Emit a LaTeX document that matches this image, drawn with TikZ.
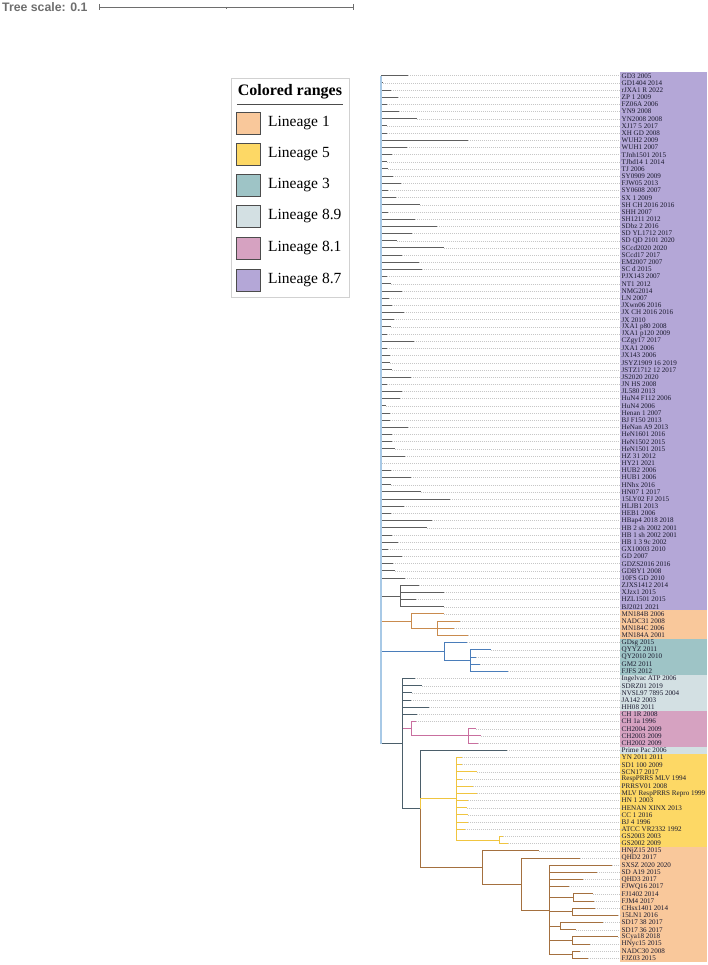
\documentclass[tikz,border=0pt]{standalone}
\usepackage{fontspec}
\setmainfont{Liberation Serif}
\newfontfamily\scalefnt{Liberation Sans}
\definecolor{linA}{HTML}{F9C89B}
\definecolor{linE}{HTML}{FDD865}
\definecolor{linC}{HTML}{9EC4C6}
\definecolor{linI}{HTML}{D3E0E3}
\definecolor{linH}{HTML}{D6A2C1}
\definecolor{linG}{HTML}{B4A7D7}
\definecolor{cgrey}{HTML}{5E5E5E}
\definecolor{corange}{HTML}{C98B4E}
\definecolor{cblue}{HTML}{4A7DBA}
\definecolor{cslate}{HTML}{4B5E6A}
\definecolor{cpink}{HTML}{C96F9F}
\definecolor{cyellow}{HTML}{F0C540}
\definecolor{cbrown}{HTML}{A4703F}
\definecolor{croot}{HTML}{A8C9E6}
\definecolor{scalegrey}{HTML}{6E6E6E}
\definecolor{labtext}{HTML}{1A1A2E}
\tikzset{
  brg/.style={draw=cgrey,line width=1pt},
  bro/.style={draw=corange,line width=1pt},
  brb/.style={draw=cblue,line width=1pt},
  brs/.style={draw=cslate,line width=1pt},
  brp/.style={draw=cpink,line width=1pt},
  bry/.style={draw=cyellow,line width=1pt},
  brw/.style={draw=cbrown,line width=1pt},
  leader/.style={draw=black!22,line width=0.5pt,dash pattern=on 0.8pt off 1.2pt},
  leaflab/.style={anchor=west,inner sep=0pt,font=\fontsize{7.1}{8}\selectfont,text=labtext},
  legtext/.style={anchor=west,inner sep=0pt,font=\fontsize{15.5}{17}\selectfont},
  swatch/.style={draw=black!70,line width=0.5pt}
}
\begin{document}
\begin{tikzpicture}[x=1pt,y=-1pt]
\useasboundingbox (0,0) rectangle (708,965);
% tree scale
\node[anchor=west,inner sep=0pt,font=\scalefnt\bfseries\fontsize{12.3}{14}\selectfont,text=scalegrey] (ts) at (2,7) {Tree scale: 0.1};
\coordinate (sbA) at (99,7);
\coordinate (sbB) at (353,7);
\coordinate (sbM) at (226,7);
\draw[scalegrey,line width=0.8pt] (sbA) -- (sbB);
\draw[scalegrey,line width=0.8pt] ([yshift=3pt]sbA) -- ([yshift=-3pt]sbA);
\draw[scalegrey,line width=0.8pt] ([yshift=3pt]sbB) -- ([yshift=-3pt]sbB);
\draw[scalegrey,line width=0.8pt] (sbM) -- ([yshift=-2pt]sbM);
% legend
\draw[draw=black!18,fill=white,line width=0.6pt] (231,78) rectangle (349,297);
\node[inner sep=0pt,font=\bfseries\fontsize{16}{18}\selectfont] (legtitle) at (290,91.5) {Colored ranges};
\draw[black!70,line width=0.8pt] (237,104) -- (343,104);
\foreach \yy/\cc/\tt [count=\n] in {123/linA/Lineage 1,154/linE/Lineage 5,185/linC/Lineage 3,216/linI/Lineage 8.9,248/linH/Lineage 8.1,280/linG/Lineage 8.7}{
  \draw[swatch,fill=\cc] (236,\yy-11) rectangle (260,\yy+11);
  \node[legtext] (leg\n) at (268,\yy) {\tt};
}
\begin{scope}[y=-7.177pt,yshift=-68.523pt]
% colour ranges
\fill[linG] (620,0.5) rectangle (707,75.5);
\fill[linA] (620,75.5) rectangle (707,79.5);
\fill[linC] (620,79.5) rectangle (707,84.5);
\fill[linI] (620,84.5) rectangle (707,89.5);
\fill[linH] (620,89.5) rectangle (707,94.5);
\fill[linI] (620,94.5) rectangle (707,95.5);
\fill[linE] (620,95.5) rectangle (707,108.5);
\fill[linA] (620,108.5) rectangle (707,124.5);
% internal nodes
\coordinate (R) at (381,47.54);
\coordinate (A) at (400.7,73.5);
\coordinate (O1) at (411,77);
\coordinate (O1b) at (437,78);
\coordinate (B3) at (444,81.25);
\coordinate (B3b) at (470.3,82.5);
\coordinate (N402) at (402.3,94.08);
\coordinate (P) at (411,92);
\coordinate (P2) at (468.3,93);
\coordinate (N420) at (420,103.156);
\coordinate (Y) at (456.7,101.75);
\coordinate (Y2) at (499.3,107.5);
\coordinate (O2) at (482.3,111.3125);
\coordinate (O3) at (521.7,113.625);
\coordinate (O4) at (549,117.25);
\coordinate (Q1) at (573.3,115.5);
\coordinate (Q2) at (572.3,117.5);
\coordinate (Q3) at (560,119.5);
\coordinate (Q4) at (572.3,121.5);
\coordinate (Q5) at (572.3,123.5);
% leaves
\foreach \i/\x/\p/\c/\t in {
1/408.3/R/brg/GD3 2005,
2/383.3/R/brg/GD1404 2014,
3/390.7/R/brg/rJXA1 R 2022,
4/398.3/R/brg/ZP 1 2009,
5/386.7/R/brg/FZ06A 2006,
6/399/R/brg/YN9 2008,
7/416.7/R/brg/YN2008 2008,
8/386.7/R/brg/XJ17 5 2017,
9/386.7/R/brg/XH GD 2008,
10/468.3/R/brg/WUH2 2009,
11/407.3/R/brg/WUH1 2007,
12/391.7/R/brg/TJnh1501 2015,
13/387.3/R/brg/TJbd14 1 2014,
14/387.7/R/brg/TJ 2006,
15/393.3/R/brg/SY0909 2009,
16/401/R/brg/FJW05 2013,
17/387.7/R/brg/SY0608 2007,
18/395.7/R/brg/SX 1 2009,
19/420/R/brg/SH CH 2016 2016,
20/387.7/R/brg/SHH 2007,
21/415/R/brg/SH1211 2012,
22/437.3/R/brg/SDbz 2 2016,
23/412.3/R/brg/SD YL1712 2017,
24/396.7/R/brg/SD QD 2101 2020,
25/444/R/brg/SCcd2020 2020,
26/402.3/R/brg/SCcd17 2017,
27/419.3/R/brg/EM2007 2007,
28/421.7/R/brg/SC d 2015,
29/386.7/R/brg/PJX143 2007,
30/390.7/R/brg/NT1 2012,
31/401.7/R/brg/NMG2014,
32/389/R/brg/LN 2007,
33/391.7/R/brg/JXwn06 2016,
34/404/R/brg/JX CH 2016 2016,
35/394.3/R/brg/JX 2010,
36/390.7/R/brg/JXA1 p80 2008,
37/387.3/R/brg/JXA1 p120 2009,
38/414.3/R/brg/CZgy17 2017,
39/386.7/R/brg/JXA1 2006,
40/390/R/brg/JX143 2006,
41/390/R/brg/JSYZ1909 16 2019,
42/392.3/R/brg/JSTZ1712 12 2017,
43/410.7/R/brg/JS2020 2020,
44/386.7/R/brg/JN HS 2008,
45/401.7/R/brg/JL580 2013,
46/400/R/brg/HuN4 F112 2006,
47/385.7/R/brg/HuN4 2006,
48/390/R/brg/Henan 1 2007,
49/390/R/brg/BJ F150 2013,
50/407.7/R/brg/HeNan A9 2013,
51/391.7/R/brg/HeN1601 2016,
52/391.7/R/brg/HeN1502 2015,
53/395/R/brg/HeN1501 2015,
54/405/R/brg/HZ 31 2012,
55/382.3/R/brg/HY21 2021,
56/391/R/brg/HUB2 2006,
57/411/R/brg/HUB1 2006,
58/390.7/R/brg/HNhx 2016,
59/420.7/R/brg/HN07 1 2017,
60/450/R/brg/15LY02 FJ 2015,
61/404/R/brg/HLJB1 2013,
62/390.7/R/brg/HEB1 2006,
63/432.3/R/brg/HBap4 2018 2018,
64/426.7/R/brg/HB 2 sh 2002 2001,
65/391.7/R/brg/HB 1 sh 2002 2001,
66/397.7/R/brg/HB 1 3 9c 2002,
67/387.7/R/brg/GX10003 2010,
68/401.7/R/brg/GD 2007,
69/393.3/R/brg/GDZS2016 2016,
70/395/R/brg/GDBY1 2008,
71/405/R/brg/10FS GD 2010,
72/419/A/brg/ZJXS1412 2014,
73/444/A/brg/XJzx1 2015,
74/415.7/A/brg/HZL1501 2015,
75/444/A/brg/BJ2021 2021,
76/444/O1/bro/MN184B 2006,
77/460/O1b/bro/NADC31 2008,
78/454/O1b/bro/MN184C 2006,
79/467.7/O1b/bro/MN184A 2001,
80/466.7/B3/brb/GDsg 2015,
81/490.7/B3b/brb/QYYZ 2011,
82/475.7/B3b/brb/QY2010 2010,
83/480.3/B3b/brb/GM2 2011,
84/507.7/B3b/brb/FJFS 2012,
85/415/N402/brs/Ingelvac ATP 2006,
86/422.3/N402/brs/SDRZ01 2019,
87/411.7/N402/brs/NVSL97 7895 2004,
88/411/N402/brs/JA142 2003,
89/429/N402/brs/HH08 2011,
90/417/N402/brs/CH 1R 2008,
91/415.7/P/brp/CH 1a 1996,
92/476/P2/brp/CH2004 2009,
93/481/P2/brp/CH2003 2009,
94/478.3/P2/brp/CH2002 2009,
95/507.3/N420/brs/Prime Pac 2006,
96/462.3/Y/bry/YN 2011 2011,
97/462.3/Y/bry/SD1 100 2009,
98/476.7/Y/bry/SCN17 2017,
99/462.3/Y/bry/RespPRRS MLV 1994,
100/473.3/Y/bry/PRRSV01 2008,
101/476.7/Y/bry/MLV RespPRRS Repro 1999,
102/468.3/Y/bry/HN 1 2003,
103/466.7/Y/bry/HENAN XINX 2013,
104/467.7/Y/bry/CC 1 2016,
105/467.7/Y/bry/BJ 4 1996,
106/465/Y/bry/ATCC VR2332 1992,
107/503/Y2/bry/GS2003 2003,
108/508/Y2/bry/GS2002 2009,
109/539.3/O2/brw/HNjZ15 2015,
110/580/O3/brw/QHD2 2017,
111/611.7/O4/brw/SXSZ 2020 2020,
112/596.7/O4/brw/SD A19 2015,
113/583.3/O4/brw/QHD3 2017,
114/569.3/O4/brw/FJWQ16 2017,
115/593.3/Q1/brw/FJ1402 2014,
116/594.3/Q1/brw/FJM4 2017,
117/595/Q2/brw/CHsx1401 2014,
118/618/Q2/brw/15LN1 2016,
119/603.3/Q3/brw/SD17 38 2017,
120/576/Q3/brw/SD17 36 2017,
121/618/Q4/brw/SCya18 2018,
122/590/Q4/brw/HNyc15 2015,
123/580/Q5/brw/NADC30 2008,
124/587.7/Q5/brw/FJZ03 2015}{
  \coordinate (T\i) at (\x,\i);
  \node[leaflab] (L\i) at (621.5,\i) {\t};
  \draw[leader] (T\i) -- (L\i.west);
  \draw[\c] (\p) |- (T\i);
}
% internal edges
\draw[brg] (R) |- (A);
\draw[bro] (R) |- (O1);
\draw[bro] (O1) |- (O1b);
\draw[brb] (R) |- (B3);
\draw[brb] (B3) |- (B3b);
\draw[brs] (R) |- (N402);
\draw[brp] (N402) |- (P);
\draw[brp] (P) |- (P2);
\draw[brs] (N402) |- (N420);
\draw[bry] (N420) |- (Y);
\draw[bry] (Y) |- (Y2);
\draw[brw] (N420) |- (O2);
\draw[brw] (O2) |- (O3);
\draw[brw] (O3) |- (O4);
\foreach \q in {Q1,Q2,Q3,Q4,Q5}{\draw[brw] (O4) |- (\q);}
\draw[brs] (N402 |- T85) -- (N402 |- N420);
% root line
\draw[croot,line width=1.8pt] (R |- T1) -- (R |- N402);
\end{scope}
\end{tikzpicture}
\end{document}
